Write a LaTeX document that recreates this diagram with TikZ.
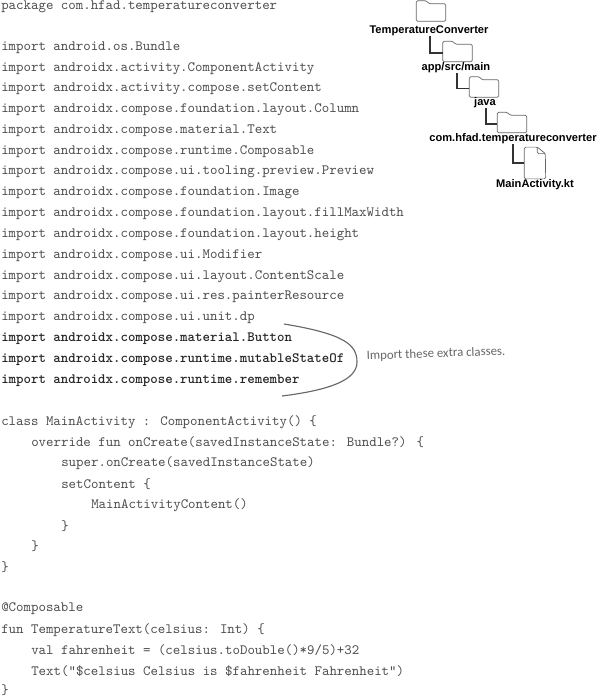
\documentclass[tikz,border=0pt]{standalone}
\usepackage{fontspec}
\setmainfont{Liberation Sans}
\newfontfamily\notefont{Carlito}
\usetikzlibrary{positioning}
\definecolor{codegray}{gray}{0.3}
\definecolor{foldergray}{gray}{0.4}
\tikzset{
  codeline/.style={anchor=west,inner sep=0pt,yshift=-0.6pt,text=codegray,font=\ttfamily\fontsize{10.1pt}{12pt}\selectfont},
  newline/.style={codeline,text=black!85,font=\ttfamily\bfseries\fontsize{10.1pt}{12pt}\selectfont},
  treelabel/.style={inner sep=0pt,font=\bfseries\fontsize{7.9pt}{9pt}\selectfont},
  treeline/.style={draw=black!80,line width=0.8pt},
  folderbox/.style={minimum width=0.72cm,minimum height=0.425cm,inner sep=0pt},
  filebox/.style={minimum width=0.52cm,minimum height=0.78cm,inner sep=0pt},
  outline/.style={draw=foldergray,line width=0.5pt,rounded corners=1pt}
}
% folder with its tab on the top left
\newcommand{\folderat}[3]{
  \node[folderbox] (#1) at (#2,#3) {};
  \draw[outline] (#1.north west) -- ++(0,-3) -- ++(10,0) -- ++(2.5,3) -- (#1.north east)
    -- (#1.south east) -- (#1.south west) -- cycle;
}
\begin{document}
\begin{tikzpicture}[x=0.025cm,y=-0.025cm]
  \useasboundingbox (0,0) rectangle (600,697);

  % code
  \node[codeline] (l0) at (1,6) {package com.hfad.temperatureconverter};
  \node[codeline] (l2) at (1,46.6) {import android.os.Bundle};
  \node[codeline] (l3) at (1,67.4) {import androidx.activity.ComponentActivity};
  \node[codeline] (l4) at (1,88.2) {import androidx.activity.compose.setContent};
  \node[codeline] (l5) at (1,109) {import androidx.compose.foundation.layout.Column};
  \node[codeline] (l6) at (1,129.8) {import androidx.compose.material.Text};
  \node[codeline] (l7) at (1,150.6) {import androidx.compose.runtime.Composable};
  \node[codeline] (l8) at (1,171.4) {import androidx.compose.ui.tooling.preview.Preview};
  \node[codeline] (l9) at (1,192.2) {import androidx.compose.foundation.Image};
  \node[codeline] (l10) at (1,213) {import androidx.compose.foundation.layout.fillMaxWidth};
  \node[codeline] (l11) at (1,233.8) {import androidx.compose.foundation.layout.height};
  \node[codeline] (l12) at (1,254.6) {import androidx.compose.ui.Modifier};
  \node[codeline] (l13) at (1,275.4) {import androidx.compose.ui.layout.ContentScale};
  \node[codeline] (l14) at (1,296.2) {import androidx.compose.ui.res.painterResource};
  \node[codeline] (l15) at (1,317) {import androidx.compose.ui.unit.dp};
  \node[newline] (l16) at (1,337.8) {import androidx.compose.material.Button};
  \node[newline] (l17) at (1,358.6) {import androidx.compose.runtime.mutableStateOf};
  \node[newline] (l18) at (1,379.4) {import androidx.compose.runtime.remember};
  \node[codeline] (l20) at (1,421) {class MainActivity : ComponentActivity() \{};
  \node[codeline] (l21) at (31,441.8) {override fun onCreate(savedInstanceState: Bundle?) \{};
  \node[codeline] (l22) at (61,462.6) {super.onCreate(savedInstanceState)};
  \node[codeline] (l23) at (61,483.4) {setContent \{};
  \node[codeline] (l24) at (91,504.2) {MainActivityContent()};
  \node[codeline] (l25) at (61,525) {\}};
  \node[codeline] (l26) at (31,545.8) {\}};
  \node[codeline] (l27) at (1,566.6) {\}};
  \node[codeline] (l29) at (1,608.2) {@Composable};
  \node[codeline] (l30) at (1,629) {fun TemperatureText(celsius: Int) \{};
  \node[codeline] (l31) at (31,649.8) {val fahrenheit = (celsius.toDouble()*9/5)+32};
  \node[codeline] (l32) at (31,670.6) {Text("\$celsius Celsius is \$fahrenheit Fahrenheit")};
  \node[codeline] (l33) at (1,689.6) {\}};

  % project tree
  \folderat{rootdir}{431}{12.5}
  \node[treelabel] (rootname) at (429,31) {TemperatureConverter};
  \folderat{appdir}{457.5}{53}
  \node[treelabel] (appname) at (456,68) {app/src/main};
  \folderat{javadir}{484}{88.5}
  \node[treelabel] (javaname) at (485,103) {java};
  \folderat{pkgdir}{512}{124}
  \node[treelabel] (pkgname) at (513,139) {com.hfad.temperatureconverter};
  \node[filebox] (kotlinfile) at (535,163) {};
  \draw[outline] (kotlinfile.north west) -- ++(13,0) -- ++(8,6.5)
    -- (kotlinfile.south east) -- (kotlinfile.south west) -- cycle;
  \draw[outline] (kotlinfile.north west) ++(13,0) -- ++(0,6.5) -- ++(8,0);
  \node[treelabel] (kotlinname) at (535,185) {MainActivity.kt};
  \draw[treeline] (rootname.south -| 430,0) |- (appdir.west);
  \draw[treeline] (appname.south -| 457,0) |- (javadir.west);
  \draw[treeline] (javaname.south -| 486,0) |- (pkgdir.west);
  \draw[treeline] (pkgname.south -| 513,0) |- (kotlinfile.west);

  % note on the new imports
  \coordinate (curvetop) at (284,324);
  \coordinate (curvebot) at (282,396);
  \draw[foldergray,line width=0.8pt] (curvetop) .. controls (345,334) and (357,345) .. (357,362)
    .. controls (357,380) and (330,390) .. (curvebot);
  \node[rotate=2,text=foldergray,inner sep=0pt,font=\notefont\fontsize{9.1pt}{11pt}\selectfont] (note) at (436,354) {Import these extra classes.};
\end{tikzpicture}
\end{document}
